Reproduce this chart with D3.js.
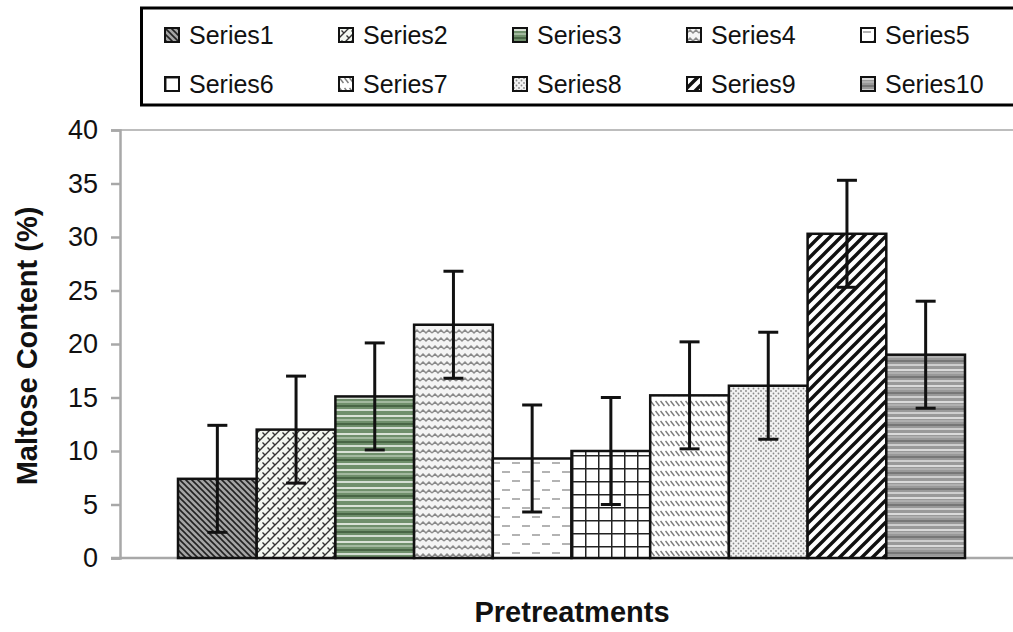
<!DOCTYPE html>
<html>
<head>
<meta charset="utf-8">
<script src="https://cdn.jsdelivr.net/npm/d3@7/dist/d3.min.js"></script>
<style>
  body { margin: 0; background: #fff; }
  svg { display: block; font-family: "Liberation Sans", Arial, sans-serif; }
</style>
</head>
<body>
<svg id="chart" width="1013" height="632"></svg>
<script>
// data
var categories = ["Series1", "Series2", "Series3", "Series4", "Series5",
                  "Series6", "Series7", "Series8", "Series9", "Series10"];
var values = [7.4, 12.0, 15.1, 21.8, 9.3, 10.0, 15.2, 16.1, 30.3, 19.0];
var errors = [5, 5, 5, 5, 5, 5, 5, 5, 5, 5];
var yTicks = [0, 5, 10, 15, 20, 25, 30, 35, 40];

var svg = d3.select("#chart");
var defs = svg.append("defs");

// fill patterns, one per series
function pat(id, w, h, bg) {
    var p = defs.append("pattern")
        .attr("id", id)
        .attr("patternUnits", "userSpaceOnUse")
        .attr("width", w).attr("height", h);
    p.append("rect").attr("width", w).attr("height", h).attr("fill", bg);
    return p;
}
var p;
p = pat("p0", 6, 6, "#a4a4a4");
p.append("path").attr("d", "M0,0L6,6M-1,5L1,7M5,-1L7,1").attr("stroke", "#222").attr("stroke-width", 1.6);

p = pat("p1", 10, 10, "#f3f8f1");
p.append("path").attr("d", "M0,10L10,0M-5,5L5,-5M5,15L15,5M2.5,2.5L5,5M7.5,7.5L10,10M-2.5,7.5L0,10")
    .attr("stroke", "#333").attr("stroke-width", 1.4).attr("fill", "none");

p = pat("p2", 18, 18, "#6f8f6b");
[[2, "#f4f8f2", 1.6], [6, "#d6e3d3", 1], [10, "#2f4a2d", 1.2], [14, "#ffffff", 1.4]].forEach(function(l) {
    p.append("line").attr("x1", 0).attr("x2", 18).attr("y1", l[0]).attr("y2", l[0])
        .attr("stroke", l[1]).attr("stroke-width", l[2]);
});

p = pat("p3", 12, 8, "#f4f4f4");
p.append("path").attr("d", "M0,5L3,2L6,5L9,2L12,5").attr("stroke", "#8a8a8a").attr("stroke-width", 1.5).attr("fill", "none");

p = pat("p4", 20, 18, "#ffffff");
p.append("path").attr("d", "M2,4H10M12,13H20M-8,13H0").attr("stroke", "#9a9a9a").attr("stroke-width", 1.6);

p = pat("p5", 13, 13, "#ffffff");
p.append("path").attr("d", "M0,0.75H13M0.75,0V13").attr("stroke", "#222").attr("stroke-width", 1.5);

p = pat("p6", 5, 10, "#ffffff");
p.append("path").attr("d", "M0.5,1L4.5,6").attr("stroke", "#7a7a7a").attr("stroke-width", 1.5);

p = pat("p7", 5, 5, "#f2f2f2");
p.append("circle").attr("cx", 1).attr("cy", 1).attr("r", 0.9).attr("fill", "#888");
p.append("circle").attr("cx", 3.5).attr("cy", 3.5).attr("r", 0.9).attr("fill", "#888");

p = pat("p8", 11, 11, "#ffffff");
p.append("path").attr("d", "M0,11L11,0M-2,2L2,-2M9,13L13,9").attr("stroke", "#111").attr("stroke-width", 3.4);

p = pat("p9", 16, 16, "#999999");
[[2, "#f0f0f0", 1.5], [5, "#c8c8c8", 1], [9, "#555555", 1], [13, "#e0e0e0", 1.5]].forEach(function(l) {
    p.append("line").attr("x1", 0).attr("x2", 16).attr("y1", l[0]).attr("y2", l[0])
        .attr("stroke", l[1]).attr("stroke-width", l[2]);
});

// scales
var x = d3.scaleBand().domain(categories).range([178, 965]).padding(0);
var y = d3.scaleLinear().domain([0, 40]).range([558, 130]);

// plot frame top + axes (grey)
svg.append("line").attr("x1", 120).attr("x2", 1013).attr("y1", y(40)).attr("y2", y(40))
    .attr("stroke", "#bdbdbd").attr("stroke-width", 2);

var yAxis = svg.append("g")
    .attr("transform", "translate(120,0)")
    .call(d3.axisLeft(y).tickValues(yTicks).tickSize(9).tickPadding(13));
yAxis.select(".domain").attr("stroke", "#a8a8a8").attr("stroke-width", 2.5);
yAxis.selectAll(".tick line").attr("stroke", "#a8a8a8").attr("stroke-width", 2.5);
yAxis.selectAll(".tick text").attr("font-size", 27).attr("fill", "#111")
    .attr("font-family", "Liberation Sans, Arial, sans-serif");

svg.append("line").attr("x1", 111).attr("x2", 1013).attr("y1", y(0)).attr("y2", y(0))
    .attr("stroke", "#a8a8a8").attr("stroke-width", 2.5);

// bars
svg.selectAll("rect.bar").data(values).enter().append("rect")
    .attr("class", "bar")
    .attr("x", function(d, i) { return x(categories[i]); })
    .attr("y", function(d) { return y(d); })
    .attr("width", x.bandwidth())
    .attr("height", function(d) { return y(0) - y(d); })
    .attr("fill", function(d, i) { return "url(#p" + i + ")"; })
    .attr("stroke", "#111").attr("stroke-width", 2.5);

// error bars
var eb = svg.selectAll("g.err").data(values).enter().append("g")
    .attr("class", "err")
    .attr("transform", function(d, i) { return "translate(" + (x(categories[i]) + x.bandwidth() / 2) + ",0)"; });
eb.append("line")
    .attr("y1", function(d, i) { return y(d + errors[i]); })
    .attr("y2", function(d, i) { return y(d - errors[i]); })
    .attr("stroke", "#111").attr("stroke-width", 3);
eb.append("line").attr("x1", -10).attr("x2", 10)
    .attr("y1", function(d, i) { return y(d + errors[i]); })
    .attr("y2", function(d, i) { return y(d + errors[i]); })
    .attr("stroke", "#111").attr("stroke-width", 3);
eb.append("line").attr("x1", -10).attr("x2", 10)
    .attr("y1", function(d, i) { return y(d - errors[i]); })
    .attr("y2", function(d, i) { return y(d - errors[i]); })
    .attr("stroke", "#111").attr("stroke-width", 3);

// axis titles
svg.append("text")
    .attr("transform", "translate(37,346) rotate(-90)")
    .attr("text-anchor", "middle")
    .attr("font-size", 29).attr("font-weight", "bold").attr("fill", "#111")
    .text("Maltose Content (%)");
svg.append("text")
    .attr("x", 572).attr("y", 622)
    .attr("text-anchor", "middle")
    .attr("font-size", 29).attr("font-weight", "bold").attr("fill", "#111")
    .text("Pretreatments");

// legend
svg.append("rect").attr("x", 141.5).attr("y", 8).attr("width", 900).attr("height", 97)
    .attr("fill", "#fff").attr("stroke", "#000").attr("stroke-width", 3);
var leg = svg.selectAll("g.leg").data(categories).enter().append("g")
    .attr("class", "leg")
    .attr("transform", function(d, i) { return "translate(" + (165 + (i % 5) * 174) + "," + (28 + Math.floor(i / 5) * 49) + ")"; });
leg.append("rect").attr("width", 14).attr("height", 14)
    .attr("fill", function(d, i) { return "url(#p" + i + ")"; })
    .attr("stroke", "#111").attr("stroke-width", 2);
leg.append("text").attr("x", 24).attr("y", 16)
    .attr("font-size", 25).attr("fill", "#111")
    .text(function(d) { return d; });
</script>
</body>
</html>
